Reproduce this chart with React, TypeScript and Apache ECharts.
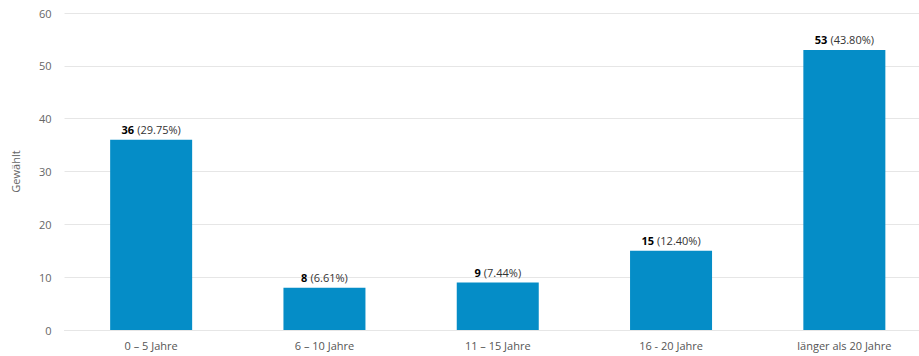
import React, { useEffect, useRef } from "react";
import * as echarts from "echarts";

const categories = ["0 – 5 Jahre", "6 – 10 Jahre", "11 – 15 Jahre", "16 - 20 Jahre", "länger als 20 Jahre"];
const counts = [36, 8, 9, 15, 53];
const percents = ["29.75", "6.61", "7.44", "12.40", "43.80"];
const yTicks = [0, 10, 20, 30, 40, 50, 60];

export default function App() {
  const ref = useRef<HTMLDivElement>(null);
  useEffect(() => {
    document.body.style.margin = "0";
    const chart = echarts.init(ref.current!, undefined, { renderer: "svg" });
    chart.setOption({
      animation: false,
      textStyle: { fontFamily: "Open Sans" },
      grid: { left: 64.5, width: 866.5, top: 13, bottom: 26, containLabel: false },
      xAxis: {
        type: "category",
        data: categories,
        axisTick: { show: false },
        axisLine: { lineStyle: { color: "#e6e6e6" } },
        axisLabel: { color: "#555", fontSize: 11, margin: 10, fontFamily: "Open Sans" },
      },
      yAxis: {
        type: "value",
        min: yTicks[0],
        max: yTicks[yTicks.length - 1],
        interval: 10,
        name: "Gewählt",
        nameLocation: "middle",
        nameGap: 44,
        nameTextStyle: { color: "#666", fontSize: 11, fontFamily: "Open Sans" },
        axisLabel: { color: "#666", fontSize: 11, margin: 13, fontFamily: "Open Sans" },
        splitLine: { lineStyle: { color: "#e6e6e6" } },
      },
      series: [
        {
          type: "bar",
          data: counts,
          barWidth: 82,
          itemStyle: { color: "#058DC7" },
          label: {
            show: true,
            position: "top",
            distance: 4,
            formatter: (p: any) => `{b|${p.value}} {n|(${percents[p.dataIndex]}%)}`,
            rich: {
              b: { fontWeight: "bold", fontSize: 11, color: "#000", fontFamily: "Open Sans" },
              n: { fontSize: 11, color: "#333", fontFamily: "Open Sans" },
            },
          },
        },
      ],
    });
    return () => chart.dispose();
  }, []);
  return (
    <div style={{ width: 919, height: 356, overflow: "hidden" }}>
      <div ref={ref} style={{ width: 935, height: 356 }} />
    </div>
  );
}
